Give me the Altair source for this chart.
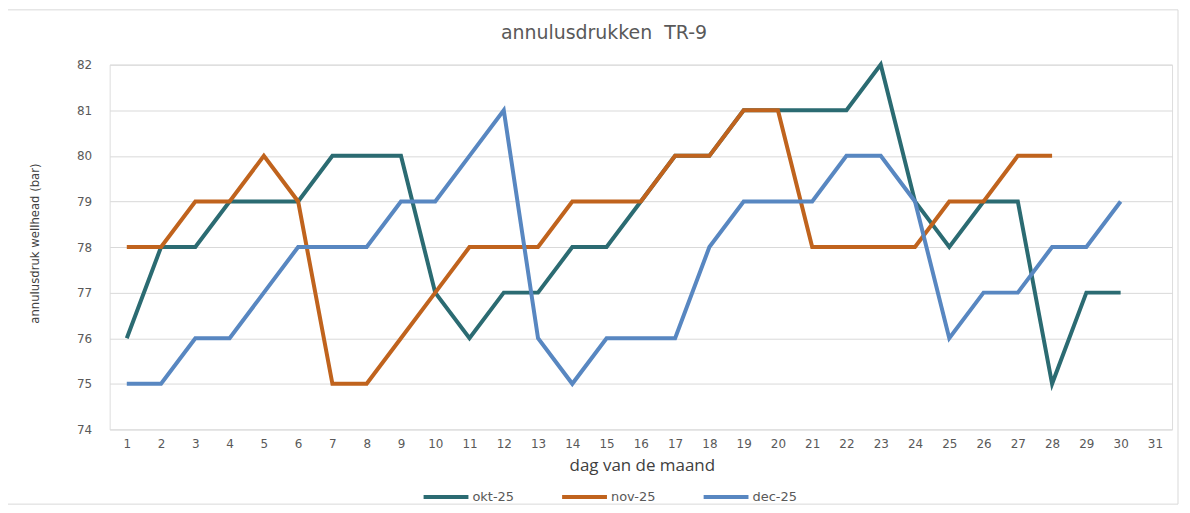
import altair as alt
import pandas as pd

days = list(range(1, 32))
series_names = ["okt-25", "nov-25", "dec-25"]
okt = [76, 78, 78, 79, 79, 79, 80, 80, 80, 77, 76, 77, 77, 78, 78, 79, 80, 80, 81, 81,
       81, 81, 82, 79, 78, 79, 79, 75, 77, 77]
nov = [78, 78, 79, 79, 80, 79, 75, 75, 76, 77, 78, 78, 78, 79, 79, 79, 80, 80, 81, 81,
       78, 78, 78, 78, 79, 79, 80, 80]
dec = [75, 75, 76, 76, 77, 78, 78, 78, 79, 79, 80, 81, 76, 75, 76, 76, 76, 78, 79, 79,
       79, 80, 80, 79, 76, 77, 77, 78, 78, 79]
colors = ["#2B6B72", "#C0631D", "#5887C1"]
y_ticks = [74, 75, 76, 77, 78, 79, 80, 81, 82]

rows = []
for name, vals in zip(series_names, [okt, nov, dec]):
    for d, v in zip(days, vals):
        rows.append({"dag": d, "druk": v, "reeks": name})
df = pd.DataFrame(rows)

W, H = 1066, 366

lines = alt.Chart(df).mark_line(strokeWidth=4, strokeJoin="miter").encode(
    x=alt.X("dag:O", scale=alt.Scale(domain=days),
            axis=alt.Axis(title="dag van de maand", labelAngle=0, grid=False, domain=False,
                          ticks=False, labelPadding=9, titlePadding=8,
                          labelFont="DejaVu Sans", labelFontSize=12, labelColor="#595959",
                          titleFont="Open Sans", titleFontSize=17, titleFontWeight="normal",
                          titleColor="#404040", titleX=W / 2 + 1)),
    y=alt.Y("druk:Q", scale=alt.Scale(domain=[74, 82], nice=False, zero=False),
            axis=alt.Axis(title="annulusdruk wellhead (bar)", values=y_ticks, grid=True,
                          gridColor="#D9D9D9", gridWidth=1, domain=False, ticks=False,
                          labelPadding=18, labelFont="DejaVu Sans", labelFontSize=12,
                          labelColor="#595959",
                          titleFont="'DejaVu Sans Condensed', 'Liberation Sans', sans-serif",
                          titleFontSize=13, titleFontWeight="normal", titleColor="#404040",
                          titleX=-68, titleY=H / 2 - 4)),
    color=alt.Color("reeks:N", scale=alt.Scale(domain=series_names, range=colors),
                    legend=alt.Legend(title=None, orient="none", direction="horizontal",
                                      legendX=313, legendY=409, symbolType="stroke",
                                      symbolSize=2025, symbolStrokeWidth=4,
                                      labelFont="DejaVu Sans", labelFontSize=13,
                                      labelColor="#595959", labelOffset=2,
                                      columnPadding=40)),
    order=alt.Order("dag:Q"),
)

border = alt.Chart(alt.Data(values=[{"a": 1}])).mark_rect(
    fill="transparent", stroke="#D9D9D9", strokeWidth=1
).encode(
    x=alt.value(-103), x2=alt.value(W + 6), y=alt.value(-55), y2=alt.value(H + 75)
)

chart = alt.layer(border, lines).properties(
    width=W, height=H,
    title=alt.TitleParams("annulusdrukken\u00a0 TR-9", font="DejaVu Sans", fontSize=19,
                          fontWeight="normal", color="#595959", anchor="middle",
                          dx=-37, offset=-34),
    padding={"left": 102, "top": 56, "right": 10, "bottom": 75},
    autosize=alt.AutoSizeParams(type="none"),
).configure_view(stroke=None).configure(background="white")

chart.save("out.html", embed_options={"renderer": "svg", "actions": False})
